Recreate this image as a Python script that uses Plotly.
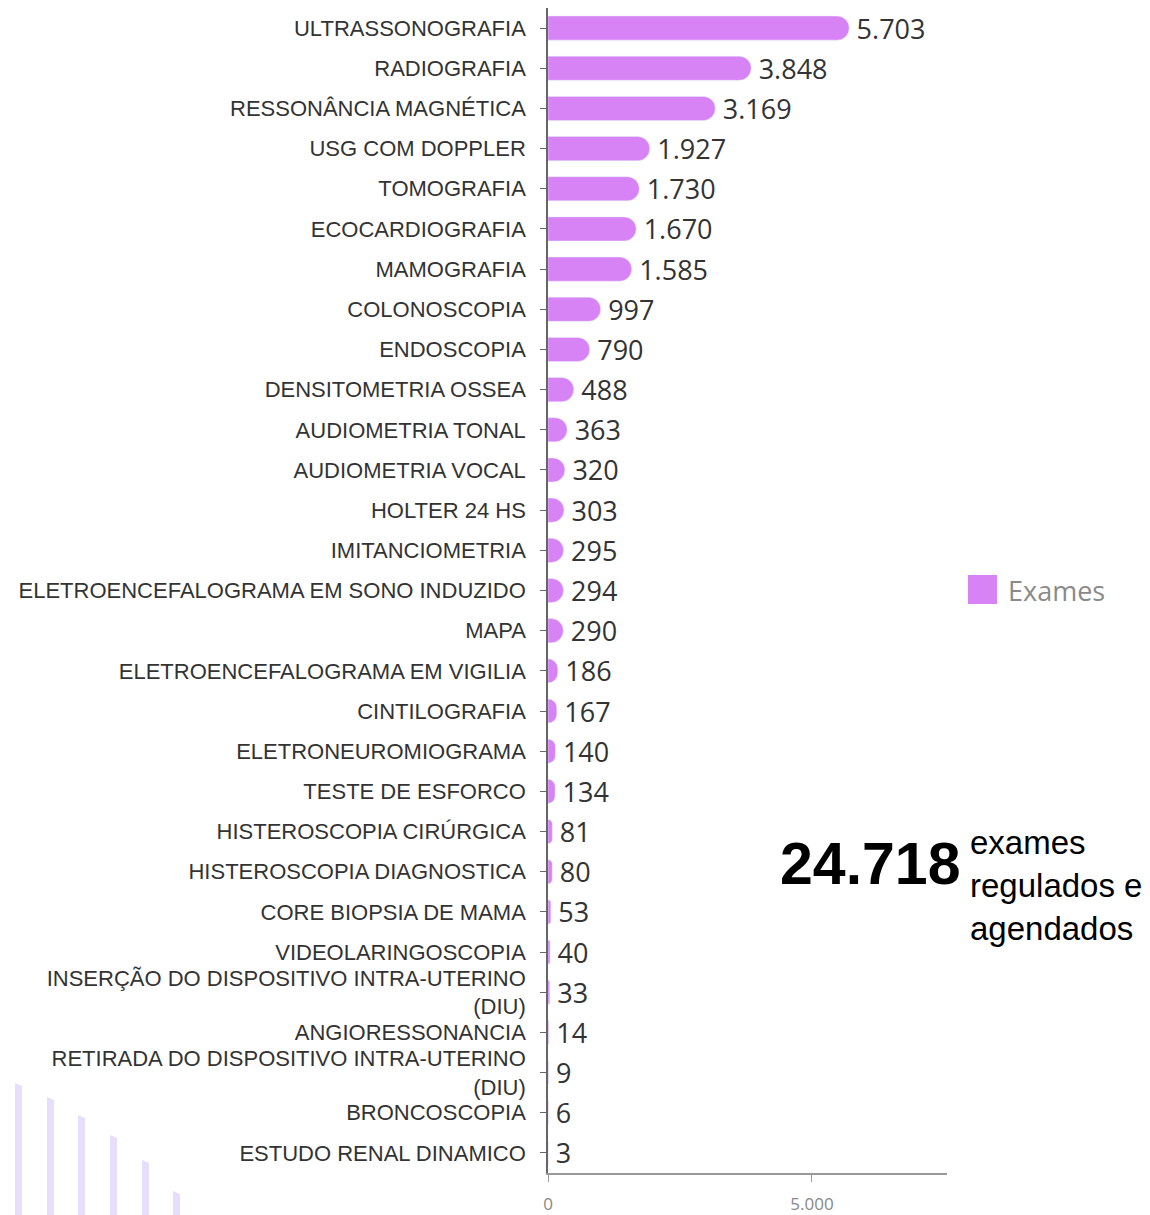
import plotly.graph_objects as go

# ---------------------------------------------------------
# Data
# ---------------------------------------------------------
exam_types = [
    "ULTRASSONOGRAFIA",
    "RADIOGRAFIA",
    "RESSONÂNCIA MAGNÉTICA",
    "USG COM DOPPLER",
    "TOMOGRAFIA",
    "ECOCARDIOGRAFIA",
    "MAMOGRAFIA",
    "COLONOSCOPIA",
    "ENDOSCOPIA",
    "DENSITOMETRIA OSSEA",
    "AUDIOMETRIA TONAL",
    "AUDIOMETRIA VOCAL",
    "HOLTER 24 HS",
    "IMITANCIOMETRIA",
    "ELETROENCEFALOGRAMA EM SONO INDUZIDO",
    "MAPA",
    "ELETROENCEFALOGRAMA EM VIGILIA",
    "CINTILOGRAFIA",
    "ELETRONEUROMIOGRAMA",
    "TESTE DE ESFORCO",
    "HISTEROSCOPIA CIRÚRGICA",
    "HISTEROSCOPIA DIAGNOSTICA",
    "CORE BIOPSIA DE MAMA",
    "VIDEOLARINGOSCOPIA",
    "INSERÇÃO DO DISPOSITIVO INTRA-UTERINO<br>(DIU)",
    "ANGIORESSONANCIA",
    "RETIRADA DO DISPOSITIVO INTRA-UTERINO<br>(DIU)",
    "BRONCOSCOPIA",
    "ESTUDO RENAL DINAMICO",
]

exam_counts = [
    5703, 3848, 3169, 1927, 1730, 1670, 1585, 997, 790, 488,
    363, 320, 303, 295, 294, 290, 186, 167, 140, 134,
    81, 80, 53, 40, 33, 14, 9, 6, 3,
]

x_tick_values = [0, 5000]

total_label = "24.718"
total_caption = "exames<br>regulados e<br>agendados"
series_name = "Exames"

BAR_COLOR = "#d782f5"

# the page body adds an 8px margin, so the figure itself is drawn at (8, 8)
OFF = 8
W, H = 1150 - OFF, 1215 - OFF
L, R, T, B = 548 - OFF, 203, 0, 42
PW = W - L - R
PH = H - T - B


# helpers: window pixel -> paper fraction
def px_x(x):
    return (x - OFF - L) / PW


def px_y(y):
    return (H - B - (y - OFF)) / PH


def rel_y(y):
    # pixel offset above the plot bottom (for pixel-sized shapes)
    return H - B - (y - OFF)


fig = go.Figure(
    go.Bar(
        x=exam_counts,
        y=exam_types,
        orientation="h",
        name=series_name,
        marker=dict(color=BAR_COLOR, cornerradius=12),
        texttemplate="\u2009%{x:,}",
        textposition="outside",
        constraintext="none",
        cliponaxis=False,
        textfont=dict(family="Open Sans", size=27, color="#333333"),
    )
)

# decorative lavender stripes (bottom-left corner)
stripes = [(15, 1083), (47, 1097), (78, 1115), (110, 1135), (142, 1160), (173, 1191)]
for sx, sy in stripes:
    x0 = sx - OFF - L
    x1 = x0 + 7
    fig.add_shape(
        type="path",
        xref="paper", yref="paper",
        xsizemode="pixel", ysizemode="pixel",
        xanchor=0, yanchor=0,
        path=f"M{x0},{-B} L{x0},{rel_y(sy)} L{x1},{rel_y(sy) - 3} L{x1},{-B} Z",
        fillcolor="#e7defb",
        line=dict(width=0),
        layer="below",
    )

# legend swatch
fig.add_shape(
    type="rect",
    xref="paper", yref="paper",
    xsizemode="pixel", ysizemode="pixel",
    xanchor=0, yanchor=0,
    x0=968 - OFF - L, x1=997 - OFF - L,
    y0=rel_y(604), y1=rel_y(575),
    fillcolor=BAR_COLOR,
    line=dict(width=0),
)
fig.add_annotation(
    x=px_x(1006), y=px_y(590), xref="paper", yref="paper",
    text=series_name, showarrow=False,
    xanchor="left", yanchor="middle",
    font=dict(family="Open Sans", size=27, color="#8a8a8a"),
)

# total
fig.add_annotation(
    x=px_x(962), y=px_y(864), xref="paper", yref="paper",
    text=f"<b>{total_label}</b>", showarrow=False,
    xanchor="right", yanchor="middle",
    font=dict(family="Liberation Sans", size=59, color="#000000"),
)
fig.add_annotation(
    x=px_x(968), y=px_y(822), xref="paper", yref="paper",
    text=total_caption, showarrow=False, align="left",
    xanchor="left", yanchor="top",
    font=dict(family="Liberation Sans", size=33, color="#000000"),
)

fig.update_layout(
    width=W,
    height=H,
    margin=dict(l=L, r=R, t=T, b=B),
    paper_bgcolor="white",
    plot_bgcolor="white",
    separators=",.",
    showlegend=False,
    bargap=0.4,
    xaxis=dict(
        range=[0, 7557],
        tickvals=x_tick_values,
        tickformat=",",
        showgrid=False,
        zeroline=False,
        showline=True,
        linecolor="#999999",
        linewidth=1.5,
        ticks="outside",
        ticklen=7,
        tickcolor="#999999",
        tickfont=dict(family="Open Sans", size=17, color="#888888"),
        ticklabelstandoff=8,
    ),
    yaxis=dict(
        autorange="reversed",
        showgrid=False,
        showline=True,
        linecolor="#666666",
        linewidth=1.5,
        ticks="outside",
        ticklen=6,
        tickcolor="#666666",
        tickfont=dict(family="Liberation Sans", size=22, color="#333333"),
        ticklabelstandoff=10,
    ),
)

fig.write_html("out.html")
